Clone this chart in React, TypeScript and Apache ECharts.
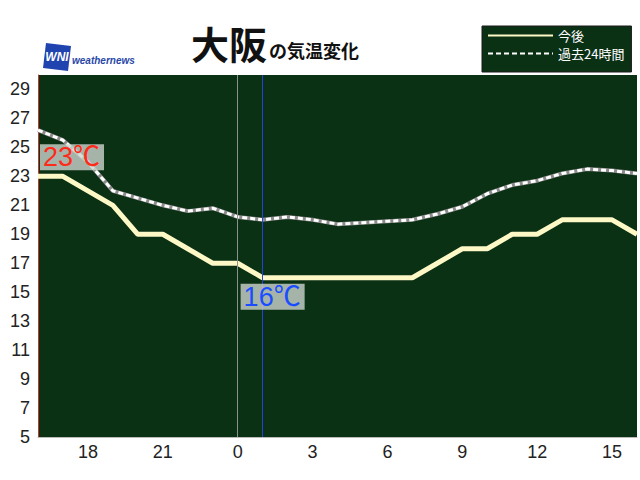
import React, { useEffect, useRef } from "react";
import * as echarts from "echarts";

const hours = ["16","17","18","19","20","21","22","23","0","1","2","3","4","5","6","7","8","9","10","11","12","13","14","15","16"];
const forecast = [23,23,22,21,19,19,18,17,17,16,16,16,16,16,16,16,17,18,18,19,19,20,20,20,19];
const past24h = [26.2,25.5,24.0,22.0,21.5,21.0,20.6,20.8,20.2,20.0,20.2,20.0,19.7,19.8,19.9,20.0,20.4,20.9,21.8,22.4,22.7,23.2,23.5,23.4,23.2];
const yTicks = { min: 5, max: 30, step: 2 };
const cityName = "大阪";
const titleRest = "の気温変化";
const seriesNames = ["今後", "過去24時間"];

export default function App() {
  const ref = useRef<HTMLDivElement>(null);
  useEffect(() => {
    if (!ref.current) return;
    const chart = echarts.init(ref.current, null, { renderer: "svg" });
    const midnight = hours.indexOf("0");
    const nowIdx = hours.indexOf("1");
    const maxV = Math.max(...forecast);
    const minV = Math.min(...forecast);
    const maxIdx = forecast.indexOf(maxV);
    const minIdx = forecast.indexOf(minV);
    const jp = "'Noto Sans CJK JP', sans-serif";
    const num = "'Liberation Sans', 'Noto Sans CJK JP', sans-serif";
    chart.setOption({
      animation: false,
      backgroundColor: "#ffffff",
      title: {
        text: `{a|${cityName}}{b|${titleRest}}`,
        left: 186,
        top: 18,
        textStyle: {
          rich: {
            a: { fontSize: 38, fontWeight: "bold", fontFamily: jp, color: "#111", verticalAlign: "bottom" },
            b: { fontSize: 18, fontFamily: jp, color: "#111", verticalAlign: "bottom", padding: [0, 0, 2, 2] },
          },
        },
      },
      legend: {
        data: seriesNames,
        orient: "vertical",
        left: 482,
        top: 26,
        padding: [3, 7, 12, 5],
        itemGap: 5,
        itemWidth: 65,
        itemHeight: 13,
        itemStyle: { opacity: 0 },
        backgroundColor: "#0b3115",
        borderColor: "#1a1a1a",
        borderWidth: 1,
        textStyle: { color: "#ffffff", fontSize: 13, lineHeight: 13, fontFamily: jp },
      },
      grid: {
        left: 38,
        right: 3,
        top: 75,
        bottom: 43,
        show: true,
        backgroundColor: "#0b3115",
        borderWidth: 0,
      },
      xAxis: {
        type: "category",
        data: hours,
        boundaryGap: false,
        axisLine: { show: true, lineStyle: { color: "#bbbbbb", width: 1 } },
        axisTick: { show: false },
        splitLine: { show: false },
        axisLabel: {
          interval: (i: number) => i % 3 === 2,
          color: "#222",
          fontSize: 18,
          fontFamily: num,
          margin: 6,
        },
      },
      yAxis: {
        type: "value",
        min: yTicks.min,
        max: yTicks.max,
        interval: yTicks.step,
        axisLine: { show: true, lineStyle: { color: "#c0392b", width: 1 } },
        axisTick: { show: false },
        axisLabel: {
          formatter: (v: number) => (v % 2 === 1 ? String(v) : ""),
          color: "#222",
          fontSize: 18,
          fontFamily: num,
          margin: 8,
        },
        splitLine: {
          show: true,
          lineStyle: { color: "#8a8a8a", width: 2, shadowColor: "#000", shadowOffsetY: -1.5, shadowBlur: 0 },
        },
      },
      series: [
        {
          name: "past-bg",
          type: "line",
          data: past24h,
          symbol: "none",
          z: 2,
          lineStyle: { color: "#8c8c8c", width: 4 },
          markLine: {
            symbol: "none",
            silent: true,
            label: { show: false },
            data: [
              { xAxis: midnight, lineStyle: { color: "#8f8f8f", width: 1, type: "solid" } },
              { xAxis: nowIdx, lineStyle: { color: "#2244dd", width: 1, type: "solid" } },
            ],
          },
        },
        {
          name: seriesNames[1],
          type: "line",
          data: past24h,
          symbol: "none",
          z: 3,
          itemStyle: { color: "#ffffff" },
          lineStyle: { color: "#ffffff", width: 3, type: [5, 3] },
        },
        {
          name: seriesNames[0],
          type: "line",
          data: forecast,
          symbol: "none",
          z: 4,
          itemStyle: { color: "#fdf8c6" },
          lineStyle: { color: "#fdf8c6", width: 5 },
          markPoint: {
            symbol: "rect",
            symbolSize: 1,
            itemStyle: { color: "rgba(0,0,0,0)" },
            silent: true,
            data: [
              {
                coord: [maxIdx, maxV],
                value: maxV,
                label: {
                  show: true,
                  position: "inside",
                  offset: [34, -19],
                  formatter: "{c}℃",
                  color: "#ff2a1a",
                  fontSize: 27,
                  fontFamily: num,
                  backgroundColor: "rgba(205,212,205,0.8)",
                  padding: [0, 4, -1, 3],
                },
              },
              {
                coord: [minIdx, minV],
                value: minV,
                label: {
                  show: true,
                  position: "inside",
                  offset: [10, 19],
                  formatter: "{c}℃",
                  color: "#1a4dff",
                  fontSize: 27,
                  fontFamily: num,
                  backgroundColor: "rgba(205,212,205,0.8)",
                  padding: [0, 4, -1, 3],
                },
              },
            ],
          },
        },
      ],
      graphic: [
        {
          type: "polygon",
          shape: { points: [[46, 43], [71, 46], [68, 71], [43, 68]] },
          style: { fill: "#1f44b0" },
        },
        {
          type: "text",
          x: 57,
          y: 57,
          style: {
            text: "WNI",
            fill: "#ffffff",
            font: "italic bold 12px 'Liberation Sans', sans-serif",
            align: "center",
            verticalAlign: "middle",
          },
        },
        {
          type: "text",
          x: 72,
          y: 60,
          style: {
            text: "weathernews",
            fill: "#2a48a8",
            font: "italic bold 10px 'Liberation Sans', sans-serif",
            align: "left",
            verticalAlign: "middle",
          },
        },
      ],
    });
    return () => chart.dispose();
  }, []);
  return (
    <div
      ref={ref}
      style={{ position: "absolute", left: 0, top: 0, width: 640, height: 480 }}
    />
  );
}
